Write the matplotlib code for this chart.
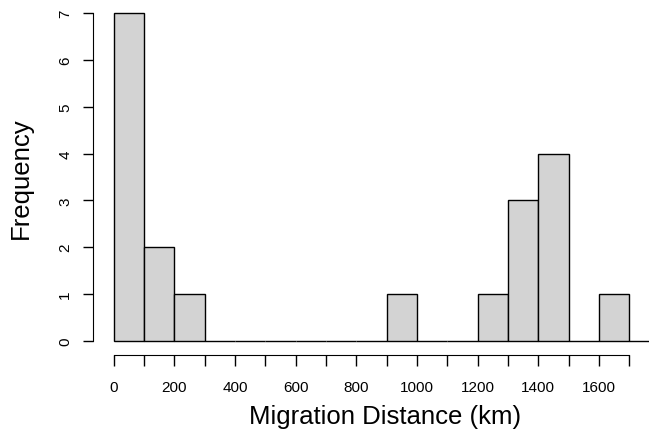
#Histogram of migration distances
import matplotlib.pyplot as plt

plt.rcParams['font.family'] = ['Liberation Sans', 'DejaVu Sans']

#bin edges (km) and counts per bin
bin_left = [0, 100, 200, 300, 400, 500, 600, 700, 800, 900, 1000, 1100, 1200, 1300, 1400, 1500, 1600, 1700]
counts = [7, 2, 1, 0, 0, 0, 0, 0, 0, 1, 0, 0, 1, 3, 4, 0, 1, 0]
bin_width = 100

x_ticks = list(range(0, 1701, 100))
x_labels = [str(t) if t % 200 == 0 else '' for t in x_ticks]
y_ticks = [0, 1, 2, 3, 4, 5, 6, 7]

fig = plt.figure(figsize=(6.49, 4.35), dpi=100)
ax = fig.add_axes([93/649, 1 - 355/435, 557/649, 354/435])

#bars
ax.bar(bin_left, counts, width=bin_width, align='edge',
       color='#D3D3D3', edgecolor='black', linewidth=1)

ax.set_xlim(-68, 1768)
ax.set_ylim(-0.28, 7.28)

#R style axes
for s in ['top', 'right']:
    ax.spines[s].set_visible(False)
ax.spines['left'].set_bounds(0, 7)
ax.spines['bottom'].set_bounds(0, 1700)
ax.spines['bottom'].set_position(('outward', 1))

ax.set_xticks(x_ticks)
ax.set_xticklabels(x_labels)
ax.set_yticks(y_ticks)
ax.set_yticklabels([str(v) for v in y_ticks], rotation=90, va='center')
ax.tick_params(axis='x', length=8, width=1, labelsize=11, pad=10)
ax.tick_params(axis='y', length=7, width=1, labelsize=11, pad=8)

ax.set_xlabel('Migration Distance (km)', fontsize=18.5)
ax.set_ylabel('Frequency', fontsize=18.5)
ax.xaxis.set_label_coords(0.524, -0.141)
ax.yaxis.set_label_coords(-0.108, 0.5)

plt.savefig('out.png', dpi=100)
